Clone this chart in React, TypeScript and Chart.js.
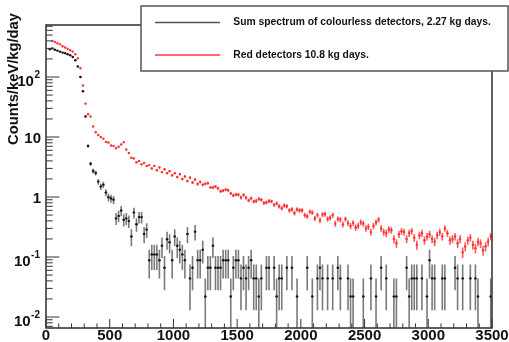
import { useEffect, useRef } from "react";
import { Chart, registerables } from "chart.js";

Chart.register(...registerables);

// ---- data (20 keV bins, bin i centred at 20*i + 10 keV) ----
const BIN_WIDTH_KEV = 20;
const EXPOSURE_COLOURLESS = 2.27; // kg days
const EXPOSURE_RED = 10.8; // kg days

// raw counts per 20 keV bin, colourless detectors
const colourlessCounts: number[] = [
  0, 13170, 13620, 12940, 12490, 12030, 11580, 11350, 10900, 10440,
  9760, 8630, 6810, 4540, 2630, 1000, 322, 163, 123, 114,
  82, 68, 73, 54, 45, 43, 41, 20, 22, 27,
  19, 20, 18, 10, 25, 16, 21, 21, 11, 13,
  4, 5, 5, 5, 4, 7, 3, 9, 8, 4,
  10, 7, 6, 5, 4, 11, 2, 3, 12, 4,
  4, 6, 1, 3, 3, 7, 3, 3, 3, 4,
  4, 4, 1, 3, 4, 4, 2, 3, 2, 3,
  4, 2, 2, 1, 2, 0, 3, 3, 0, 3,
  1, 2, 2, 0, 3, 0, 3, 0, 1, 0,
  0, 0, 3, 0, 1, 0, 2, 3, 2, 0,
  2, 0, 2, 0, 3, 2, 0, 0, 2, 1,
  1, 0, 0, 0, 1, 0, 0, 2, 0, 1,
  0, 3, 0, 2, 0, 0, 1, 1, 0, 0,
  0, 3, 1, 2, 2, 2, 0, 2, 0, 1,
  4, 2, 2, 0, 0, 2, 2, 0, 0, 0,
  3, 2, 0, 2, 0, 0, 2, 0, 2, 1,
  0, 0, 0, 0, 1,
];

// rate in counts/keV/kg/day per 20 keV bin, red detectors
const redRates: (number | null)[] = [
  null, null, 400, 385, 365, 350, 325, 310, 295, 280,
  265, 240, 205, 140, 72, 36, 24, 22, 15, 12,
  10.8, 10.0, 9.4, 8.3, 8.1, 7.2, 7.1, 6.5, 6.9, 7.5,
  8.2, 6.2, 5.4, 4.5, 4.4, 3.8, 4.0, 3.5, 3.7, 3.3,
  3.4, 3.0, 3.3, 2.8, 3.1, 2.6, 2.9, 2.5, 2.7, 2.3,
  2.5, 2.15, 2.4, 2.0, 2.2, 1.85, 2.1, 1.75, 1.95, 1.65,
  1.78, 1.6, 1.66, 1.7, 1.45, 1.44, 1.5, 1.4, 1.25, 1.28,
  1.33, 1.3, 1.15, 1.06, 1.1, 1.09, 0.98, 1.08, 0.97, 0.88,
  0.95, 0.84, 0.86, 0.93, 0.9, 0.8, 0.81, 0.86, 0.85, 0.74,
  0.78, 0.7, 0.65, 0.72, 0.7, 0.6, 0.62, 0.54, 0.62, 0.6,
  0.6, 0.5, 0.48, 0.57, 0.55, 0.44, 0.5, 0.41, 0.51, 0.52,
  0.43, 0.45, 0.5, 0.36, 0.43, 0.42, 0.35, 0.43, 0.37, 0.33,
  0.37, 0.31, 0.33, 0.38, 0.36, 0.3, 0.32, 0.26, 0.33, 0.38,
  0.42, 0.3, 0.26, 0.25, 0.29, 0.28, 0.2, 0.17, 0.24, 0.27,
  0.26, 0.2, 0.25, 0.27, 0.21, 0.16, 0.23, 0.25, 0.19, 0.22,
  0.24, 0.2, 0.18, 0.23, 0.26, 0.22, 0.3, 0.25, 0.19, 0.2,
  0.22, 0.17, 0.2, 0.12, 0.15, 0.19, 0.21, 0.16, 0.14, 0.18,
  0.17, 0.13, 0.15, 0.18, 0.22,
];

const xTickValues = [0, 500, 1000, 1500, 2000, 2500, 3000, 3500];
const X_MINOR_STEP = 100;
const yDecades = [0.01, 0.1, 1, 10, 100];
const yTickBase = ["10", "10", "1", "10", "10"];
const yTickExp = ["-2", "-1", "", "", "2"];
const legendLabels = [
  "Sum spectrum of colourless detectors, 2.27 kg days.",
  "Red detectors 10.8 kg days.",
];
const yAxisTitle = "Counts/keV/kg/day";
const X_MIN = 0;
const X_MAX = 3500;
const Y_MIN = 0.00656;
const Y_MAX = 736;

const FONT = '"Liberation Sans", Arial, Helvetica, sans-serif';

function buildColourless() {
  const norm = BIN_WIDTH_KEV * EXPOSURE_COLOURLESS;
  const pts: any[] = [];
  colourlessCounts.forEach((n, i) => {
    if (n <= 0) return;
    const y = n / norm;
    const e = Math.sqrt(n) / norm;
    pts.push({ x: BIN_WIDTH_KEV * (i + 0.5), y, lo: y - e, hi: y + e });
  });
  return pts;
}

function buildRed() {
  const norm = BIN_WIDTH_KEV * EXPOSURE_RED;
  const pts: any[] = [];
  redRates.forEach((r, i) => {
    if (r == null) return;
    const e = Math.sqrt(r * norm) / norm;
    pts.push({ x: BIN_WIDTH_KEV * (i + 0.5), y: r, lo: r - e, hi: r + e });
  });
  return pts;
}

function fitFont(ctx: CanvasRenderingContext2D, text: string, width: number) {
  ctx.font = `bold 10px ${FONT}`;
  const w = ctx.measureText(text).width;
  return (10 * width) / w;
}

const rootPlugin = {
  id: "rootStyle",
  beforeDraw(chart: any) {
    const ctx = chart.ctx;
    ctx.save();
    ctx.fillStyle = "#ffffff";
    ctx.fillRect(0, 0, chart.width, chart.height);
    ctx.restore();
  },
  beforeDatasetsDraw(chart: any) {
    const { ctx, chartArea: a, scales } = chart;
    const x = scales.x;
    const y = scales.y;
    // soften the marks slightly, like the scanned reference
    ctx.filter = "blur(0.45px)";
    ctx.save();
    ctx.beginPath();
    ctx.rect(a.left, a.top, a.right - a.left, a.bottom - a.top);
    ctx.clip();
    const order = [...chart.data.datasets].reverse();
    order.forEach((ds: any) => {
      ctx.strokeStyle = ds.errorColor;
      ctx.lineWidth = ds.errorWidth;
      ctx.beginPath();
      ds.data.forEach((p: any) => {
        const px = x.getPixelForValue(p.x);
        const yl = p.lo > 0 ? y.getPixelForValue(p.lo) : a.bottom;
        const yh = y.getPixelForValue(p.hi);
        ctx.moveTo(px, yl);
        ctx.lineTo(px, yh);
      });
      ctx.stroke();
      if (ds.xErrors) {
        ctx.lineWidth = 1;
        ctx.beginPath();
        ds.data.forEach((p: any) => {
          const yc = y.getPixelForValue(p.y);
          ctx.moveTo(x.getPixelForValue(p.x - BIN_WIDTH_KEV / 2), yc);
          ctx.lineTo(x.getPixelForValue(p.x + BIN_WIDTH_KEV / 2), yc);
        });
        ctx.stroke();
      }
    });
    ctx.restore();
  },
  afterDatasetsDraw(chart: any) {
    const { ctx, chartArea: a, scales } = chart;
    const x = scales.x;
    const y = scales.y;
    ctx.filter = "none";
    ctx.save();

    // ticks (inside the frame)
    ctx.strokeStyle = "#333";
    ctx.lineWidth = 1;
    ctx.beginPath();
    const h = a.bottom - a.top;
    const w = a.right - a.left;
    for (let v = X_MIN; v <= X_MAX; v += X_MINOR_STEP) {
      const px = x.getPixelForValue(v);
      const major = xTickValues.includes(v);
      const len = major ? 0.03 * h : 0.015 * h;
      ctx.moveTo(px, a.bottom);
      ctx.lineTo(px, a.bottom - len);
    }
    for (let k = -3; k <= 3; k++) {
      for (let m = 1; m <= 9; m++) {
        const v = m * Math.pow(10, k);
        if (v < Y_MIN || v > Y_MAX) continue;
        const py = y.getPixelForValue(v);
        const len = m === 1 ? 0.03 * w : 0.015 * w;
        ctx.moveTo(a.left, py);
        ctx.lineTo(a.left + len, py);
      }
    }
    ctx.stroke();

    // frame
    ctx.strokeStyle = "#3a3a3a";
    ctx.lineWidth = 1.6;
    ctx.strokeRect(a.left, a.top, w, h);

    // x labels
    ctx.fillStyle = "#111";
    ctx.font = `bold 15px ${FONT}`;
    ctx.textAlign = "center";
    ctx.textBaseline = "alphabetic";
    xTickValues.forEach((v) => {
      ctx.fillText(String(v), x.getPixelForValue(v), a.bottom + 11.5);
    });

    // y labels
    const rightEdge = a.left - 6;
    yDecades.forEach((v, i) => {
      const py = y.getPixelForValue(v);
      const exp = yTickExp[i];
      if (exp) {
        ctx.font = `bold 10px ${FONT}`;
        ctx.textAlign = "right";
        const ew = ctx.measureText(exp).width;
        ctx.fillText(exp, rightEdge, py + 1.0);
        ctx.font = `bold 15px ${FONT}`;
        ctx.fillText(yTickBase[i], rightEdge - ew - 0.5, py + 8.9);
      } else {
        ctx.font = `bold 15px ${FONT}`;
        ctx.textAlign = "right";
        ctx.fillText(yTickBase[i], rightEdge + 1, py + 5.9);
      }
    });

    // y axis title
    const ts = fitFont(ctx, yAxisTitle, 132);
    ctx.save();
    ctx.translate(14, 13);
    ctx.rotate(-Math.PI / 2);
    ctx.font = `bold ${ts}px ${FONT}`;
    ctx.textAlign = "right";
    ctx.textBaseline = "middle";
    ctx.fillText(yAxisTitle, 0, 0);
    ctx.restore();

    // legend box
    const L = { left: 141, top: 6, right: 508, bottom: 71 };
    ctx.fillStyle = "#ffffff";
    ctx.fillRect(L.left, L.top, L.right - L.left, L.bottom - L.top);
    ctx.strokeStyle = "#555";
    ctx.lineWidth = 1.5;
    ctx.strokeRect(L.left, L.top, L.right - L.left, L.bottom - L.top);

    const rows = [22.5, 55];
    const colors = ["#555555", "#ff3a3a"];
    const fs = fitFont(ctx, legendLabels[0], 257.7);
    rows.forEach((ry, i) => {
      ctx.strokeStyle = colors[i];
      ctx.lineWidth = 1.3;
      ctx.beginPath();
      ctx.moveTo(155, ry);
      ctx.lineTo(220, ry);
      ctx.stroke();
      ctx.fillStyle = "#111";
      ctx.font = `bold ${fs}px ${FONT}`;
      ctx.textAlign = "left";
      ctx.textBaseline = "middle";
      ctx.fillText(legendLabels[i], 233.3, ry);
    });

    ctx.restore();
  },
};

export default function App() {
  const ref = useRef<HTMLCanvasElement | null>(null);

  useEffect(() => {
    if (!ref.current) return;
    const chart = new Chart(ref.current, {
      type: "scatter",
      data: {
        datasets: [
          {
            label: legendLabels[1],
            data: buildRed(),
            pointRadius: 1.2,
            pointBackgroundColor: "#ff2f2f",
            pointBorderWidth: 0,
            errorColor: "rgba(255,50,50,0.8)",
            errorWidth: 1.6,
            xErrors: false,
          } as any,
          {
            label: legendLabels[0],
            data: buildColourless(),
            pointRadius: 1.2,
            pointBackgroundColor: "#151515",
            pointBorderWidth: 0,
            errorColor: "rgba(70,70,70,0.72)",
            errorWidth: 1.6,
            xErrors: true,
          } as any,
        ],
      },
      options: {
        animation: false,
        responsive: false,
        maintainAspectRatio: false,
        layout: { padding: { left: 46, top: 25, right: 17, bottom: 14 } },
        plugins: { legend: { display: false }, tooltip: { enabled: false } },
        scales: {
          x: { type: "linear", min: X_MIN, max: X_MAX, display: false },
          y: { type: "logarithmic", min: Y_MIN, max: Y_MAX, display: false },
        },
      },
      plugins: [rootPlugin],
    });
    return () => chart.destroy();
  }, []);

  return (
    <div style={{ position: "fixed", left: 0, top: 0, width: 509, height: 342, background: "#fff" }}>
      <canvas ref={ref} width={509} height={342} style={{ display: "block" }} />
    </div>
  );
}
